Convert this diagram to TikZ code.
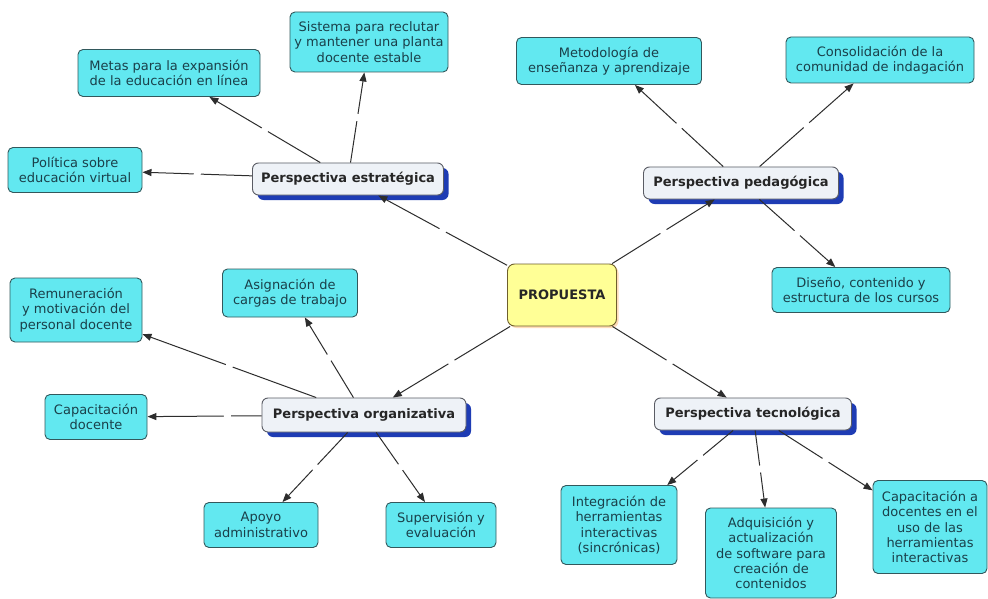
\documentclass[tikz,border=0pt]{standalone}
\usepackage{fontspec}
\setmainfont{DejaVu Sans}
\usetikzlibrary{shadows,arrows.meta,decorations.markings}
\definecolor{leaffill}{RGB}{98,232,240}
\definecolor{leafdraw}{RGB}{50,88,92}
\definecolor{leaftext}{RGB}{26,64,74}
\definecolor{perspfill}{RGB}{238,242,247}
\definecolor{perspdraw}{RGB}{90,92,100}
\definecolor{perspshadow}{RGB}{30,60,180}
\definecolor{propfill}{RGB}{255,255,150}
\definecolor{propdraw}{RGB}{110,95,45}
\definecolor{edgecol}{RGB}{45,45,45}
\begin{document}
\begin{tikzpicture}[x=1pt,y=-1pt,
  sz/.style 2 args={minimum width=#1, minimum height=#2},
  leaf/.style={draw=leafdraw, fill=leaffill, rounded corners=5pt, line width=0.9pt,
    align=center, text=leaftext, font=\fontsize{13}{15.4}\selectfont, inner sep=0pt},
  persp/.style={draw=perspdraw, fill=perspfill, rounded corners=6pt, line width=0.9pt,
    text=black!85, font=\bfseries\fontsize{13}{15}\selectfont, inner sep=0pt,
    drop shadow={shadow xshift=5pt, shadow yshift=-5pt, fill=perspshadow, opacity=1}},
  prop/.style={draw=propdraw, fill=propfill, rounded corners=7pt, line width=0.9pt,
    text=black!85, font=\bfseries\fontsize{13}{15}\selectfont, inner sep=0pt,
    drop shadow={shadow xshift=2pt, shadow yshift=-2pt, fill=orange!45, opacity=0.6}},
  conn/.style={draw=edgecol, line width=1pt, -{Triangle[length=9pt,width=7pt]},
    postaction={decorate},
    decoration={markings, mark=at position #1 with {\fill[white] (-3.5pt,-2pt) rectangle (3.5pt,2pt);}}},
  conn/.default=0.5
]
\useasboundingbox[fill=white] (0,0) rectangle (988,599);

% central
\node[prop, sz={109pt}{62pt}] (prop) at (562,295) {PROPUESTA};

% perspectives
\node[persp, sz={191pt}{32pt}] (estr) at (348,179) {Perspectiva estratégica};
\node[persp, sz={195pt}{32pt}] (peda) at (741,183) {Perspectiva pedagógica};
\node[persp, sz={204pt}{34pt}] (orga) at (364,415) {Perspectiva organizativa};
\node[persp, sz={197pt}{32pt}] (tecn) at (753,414) {Perspectiva tecnológica};

% leaves - estrategica
\node[leaf, sz={182pt}{47pt}] (metas) at (169,73) {Metas para la expansión\\de la educación en línea};
\node[leaf, sz={158pt}{60pt}] (sist) at (369,42) {Sistema para reclutar\\y mantener una planta\\docente estable};
\node[leaf, sz={134pt}{45pt}] (poli) at (75,170) {Política sobre\\educación virtual};

% leaves - pedagogica
\node[leaf, sz={185pt}{47pt}] (metod) at (609,61) {Metodología de\\enseñanza y aprendizaje};
\node[leaf, sz={188pt}{46pt}] (conso) at (880,60) {Consolidación de la\\comunidad de indagación};
\node[leaf, sz={178pt}{45pt}] (dise) at (861,290) {Diseño, contenido y\\estructura de los cursos};

% leaves - organizativa
\node[leaf, sz={132pt}{64pt}] (remu) at (76,310) {Remuneración\\y motivación del\\personal docente};
\node[leaf, sz={135pt}{48pt}] (asig) at (290,293) {Asignación de\\cargas de trabajo};
\node[leaf, sz={102pt}{45pt}] (capd) at (96,417) {Capacitación\\docente};
\node[leaf, sz={114pt}{45pt}] (apoy) at (261,525) {Apoyo\\administrativo};
\node[leaf, sz={110pt}{45pt}] (supe) at (441,525) {Supervisión y\\evaluación};

% leaves - tecnologica
\node[leaf, sz={116pt}{79pt}] (integ) at (619,525) {Integración de\\herramientas\\interactivas\\(sincrónicas)};
\node[leaf, sz={131pt}{90pt}] (adqu) at (771,553) {Adquisición y\\actualización\\de software para\\creación de\\contenidos};
\node[leaf, sz={114pt}{93pt}] (capa) at (930,527) {Capacitación a\\docentes en el\\uso de las\\herramientas\\interactivas};

% connectors
\draw[conn] (prop) -- (estr);
\draw[conn] (prop) -- (peda);
\draw[conn] (prop) -- (orga);
\draw[conn] (prop) -- (tecn);

\draw[conn] (estr) -- (metas);
\draw[conn] (estr) -- (sist);
\draw[conn] (estr) -- (poli);

\draw[conn] (peda) -- (metod);
\draw[conn] (peda) -- (conso);
\draw[conn] (peda) -- (dise);

\draw[conn] (orga) -- (remu);
\draw[conn] (orga) -- (asig);
\draw[conn=0.3] (orga) -- (capd);
\draw[conn] (orga) -- (apoy);
\draw[conn] (orga) -- (supe);

\draw[conn] (tecn) -- (integ);
\draw[conn] (tecn) -- (adqu);
\draw[conn] (tecn) -- (capa);
\end{tikzpicture}
\end{document}
